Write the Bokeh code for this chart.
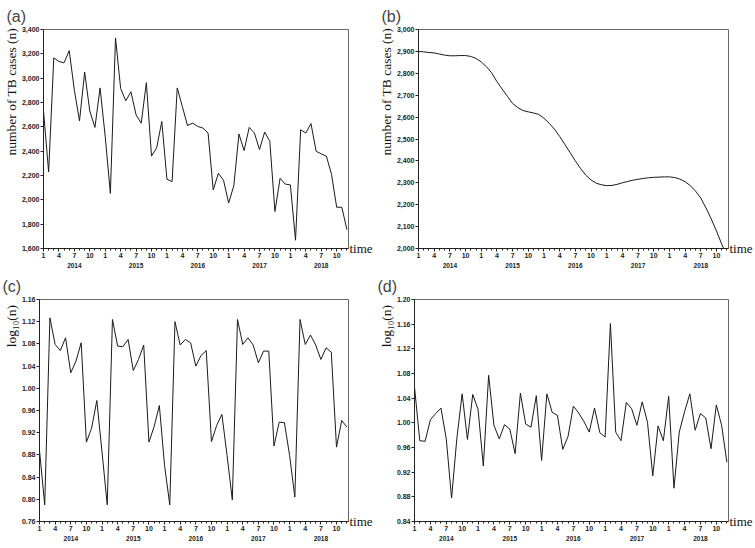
import numpy as np
from bokeh.plotting import figure
from bokeh.models import Range1d, FixedTicker, LinearAxis, NumeralTickFormatter
from bokeh.layouts import column, row
from bokeh.embed import file_html
from bokeh.resources import INLINE

# ---------------- data (monthly, Jan 2014 - Dec 2018) ----------------
years = [2014, 2015, 2016, 2017, 2018]
month_tick_labels = ["1", "4", "7", "10"]

tb_cases = [2730, 2229, 3167, 3137, 3126, 3226, 2901, 2649, 3050, 2730, 2595, 2920,
            2520, 2053, 3330, 2915, 2814, 2888, 2698, 2630, 2963, 2359, 2427, 2644,
            2169, 2150, 2920, 2766, 2611, 2630, 2603, 2590, 2549, 2082, 2218, 2161,
            1974, 2115, 2541, 2405, 2595, 2549, 2413, 2557, 2481, 1904, 2177, 2129,
            2123, 1668, 2576, 2549, 2627, 2400, 2378, 2359, 2210, 1939, 1939, 1754]

tb_trend = [2900, 2898, 2895, 2893, 2888, 2883, 2880, 2880, 2881, 2881, 2877, 2868,
            2852, 2830, 2802, 2762, 2728, 2695, 2662, 2643, 2630, 2624, 2619, 2612,
            2595, 2572, 2545, 2512, 2475, 2438, 2400, 2365, 2335, 2313, 2298, 2291,
            2287, 2288, 2293, 2300, 2306, 2312, 2316, 2320, 2323, 2325, 2326, 2327,
            2327, 2324, 2317, 2305, 2287, 2262, 2230, 2185, 2135, 2080, 2020, 1965]

log_seasonal = [0.888, 0.790, 1.127, 1.079, 1.068, 1.091, 1.028, 1.049, 1.082, 0.903, 0.928, 0.978,
                0.885, 0.790, 1.124, 1.076, 1.075, 1.088, 1.032, 1.052, 1.078, 0.903, 0.931, 0.969,
                0.861, 0.790, 1.120, 1.078, 1.088, 1.082, 1.040, 1.059, 1.068, 0.904, 0.933, 0.953,
                0.879, 0.799, 1.124, 1.079, 1.091, 1.078, 1.046, 1.067, 1.067, 0.896, 0.939, 0.938,
                0.879, 0.804, 1.124, 1.079, 1.096, 1.078, 1.052, 1.073, 1.065, 0.894, 0.942, 0.930]

log_irregular = [1.058, 0.971, 0.970, 1.005, 1.015, 1.024, 0.974, 0.878, 0.975, 1.047, 0.973, 1.046,
                 1.022, 0.930, 1.077, 0.996, 0.974, 0.997, 0.990, 0.950, 1.048, 0.998, 0.993, 1.044,
                 0.939, 1.047, 1.017, 1.012, 0.957, 0.978, 1.027, 1.016, 1.002, 0.985, 1.024, 0.984,
                 0.977, 1.161, 0.985, 0.971, 1.033, 1.023, 0.996, 1.034, 1.001, 0.914, 0.995, 0.971,
                 1.043, 0.894, 0.985, 1.018, 1.047, 0.988, 1.015, 1.008, 0.958, 1.029, 0.996, 0.936]

t = list(range(1, len(tb_cases) + 1))

SANS = "Liberation Sans"
SERIF = "Liberation Serif"
NBSP = "\u00a0"


def make_panel(series, ylo, yhi, ystep, ylabel, pad, fmt, tag, width, height, bt, bb):
    p = figure(width=width, height=height, output_backend="svg", toolbar_location=None,
               x_range=Range1d(1, 60.3), y_range=Range1d(ylo, yhi),
               min_border_left=39, min_border_right=26, min_border_top=bt, min_border_bottom=bb)
    p.line(t, series, line_color="#1a1a1a", line_width=1)
    p.xgrid.visible = False
    p.ygrid.visible = False
    p.outline_line_color = "#666666"
    p.outline_line_width = 1
    p.background_fill_color = "white"
    p.border_fill_color = "white"

    # title tag
    p.title.text = tag
    p.title.text_font = SANS
    p.title.text_font_size = "16px"
    p.title.text_font_style = "normal"
    p.title.align = "left"
    p.title.offset = -37
    p.title.standoff = 9

    # month axis
    xa = p.xaxis[0]
    major = [m for m in t if (m - 1) % 3 == 0]
    xa.ticker = FixedTicker(ticks=major, minor_ticks=t)
    xa.major_label_overrides = {m: month_tick_labels[((m - 1) % 12) // 3] for m in major}
    xa.major_label_text_font = SANS
    xa.major_label_text_font_size = "7px"
    xa.major_label_text_font_style = "bold"
    xa.major_label_text_color = "#222222"
    xa.major_label_standoff = 1
    xa.major_tick_in = 0
    xa.major_tick_out = 3
    xa.minor_tick_in = 0
    xa.minor_tick_out = 2
    xa.axis_line_color = "#222222"
    xa.major_tick_line_color = "#222222"
    xa.minor_tick_line_color = "#222222"

    # year axis
    ycent = [12 * i + 7 for i in range(len(years))]
    ya2 = LinearAxis(ticker=FixedTicker(ticks=ycent, minor_ticks=[]),
                     major_label_overrides={c: str(y) for c, y in zip(ycent, years)},
                     axis_line_color=None, major_tick_line_color=None, minor_tick_line_color=None,
                     major_tick_in=0, major_tick_out=0,
                     major_label_text_font=SANS, major_label_text_font_size="6.5px",
                     major_label_text_font_style="bold", major_label_text_color="#222222",
                     major_label_standoff=2)
    p.add_layout(ya2, "below")

    # y axis
    ya = p.yaxis[0]
    nt = int(round((yhi - ylo) / ystep))
    ya.ticker = FixedTicker(ticks=[round(ylo + i * ystep, 6) for i in range(nt + 1)], minor_ticks=[])
    ya.formatter = NumeralTickFormatter(format=fmt)
    ya.major_label_text_font = SANS
    ya.major_label_text_font_size = "7px"
    ya.major_label_text_font_style = "bold"
    ya.major_label_text_color = "#222222"
    ya.major_label_standoff = 1
    ya.major_tick_in = 0
    ya.major_tick_out = 3
    ya.axis_line_color = "#222222"
    ya.major_tick_line_color = "#222222"
    # label sits toward the top of the axis, as in the reference
    ya.axis_label = NBSP * pad + ylabel
    ya.axis_label_text_font = SERIF
    ya.axis_label_text_font_size = "13.5px"
    ya.axis_label_text_font_style = "normal"
    ya.axis_label_text_color = "#111111"
    ya.axis_label_standoff = 0

    # "time" caption at the right end of the time axis
    ra = LinearAxis(ticker=FixedTicker(ticks=[ylo], minor_ticks=[]),
                    major_label_overrides={ylo: "time"},
                    axis_line_color=None, major_tick_line_color=None, minor_tick_line_color=None,
                    major_tick_in=0, major_tick_out=0,
                    major_label_text_font=SERIF, major_label_text_font_size="13px",
                    major_label_text_color="#111111", major_label_standoff=1)
    p.add_layout(ra, "right")
    return p


pa = make_panel(tb_cases, 1600, 3400, 200, "number of TB cases (n)", 28, "0,0", "(a)",
                375, 270, 29, 20)
pb = make_panel(tb_trend, 2000, 3000, 100, "number of TB cases (n)", 28, "0,0", "(b)",
                380, 270, 29, 20)
pc = make_panel(log_seasonal, 0.76, 1.16, 0.04, "log\u2081\u2080(n)", 50, "0.00", "(c)",
                375, 278, 29, 27)
pd = make_panel(log_irregular, 0.84, 1.20, 0.04, "log\u2081\u2080(n)", 50, "0.00", "(d)",
                380, 278, 29, 27)

layout = column(row(pa, pb), row(pc, pd))

open("out.html", "w").write(file_html(layout, INLINE))
